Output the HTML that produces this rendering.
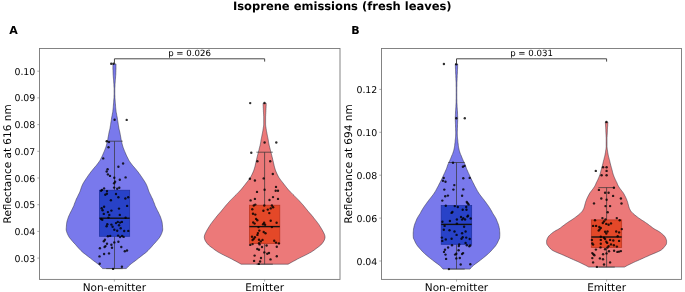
<!DOCTYPE html>
<html><head><meta charset="utf-8"><title>Isoprene emissions (fresh leaves)</title>
<style>
html,body{margin:0;padding:0;background:#fff;}
body{width:685px;height:292px;overflow:hidden;}
svg{display:block;}
text{font-family:"DejaVu Sans","Liberation Sans",sans-serif;fill:#000;text-rendering:geometricPrecision;}
.b{font-weight:bold;}
</style></head><body>
<svg width="685" height="292" viewBox="0 0 685 292">
<rect width="685" height="292" fill="#fff"/>
<text class="b" x="342.3" y="9.6" font-size="11.5" text-anchor="middle">Isoprene emissions (fresh leaves)</text>
<text class="b" x="9.3" y="33.9" font-size="11">A</text>
<text class="b" x="351.3" y="33.9" font-size="11">B</text>
<path d="M112.9,63.9 L112.9,65.2 L112.9,66.5 L112.9,67.8 L112.9,69.0 L113.0,70.3 L113.0,71.6 L113.1,72.9 L113.1,74.2 L113.2,75.5 L113.3,76.8 L113.4,78.1 L113.5,79.3 L113.6,80.6 L113.7,81.9 L113.8,83.2 L113.9,84.5 L113.9,85.8 L114.0,87.1 L114.1,88.4 L114.1,89.6 L114.1,90.9 L114.1,92.2 L114.1,93.5 L114.1,94.8 L114.0,96.1 L114.0,97.4 L113.9,98.7 L113.8,99.9 L113.7,101.2 L113.6,102.5 L113.5,103.8 L113.4,105.1 L113.3,106.4 L113.2,107.7 L113.1,109.0 L112.9,110.2 L112.8,111.5 L112.6,112.8 L112.3,114.1 L112.1,115.4 L111.8,116.7 L111.6,118.0 L111.4,119.3 L111.2,120.5 L111.0,121.8 L110.8,123.1 L110.6,124.4 L110.4,125.7 L110.2,127.0 L110.0,128.3 L109.7,129.6 L109.4,130.8 L109.1,132.1 L108.8,133.4 L108.6,134.7 L108.4,136.0 L108.1,137.3 L107.9,138.6 L107.7,139.9 L107.4,141.1 L107.1,142.4 L106.8,143.7 L106.5,145.0 L106.1,146.3 L105.7,147.6 L105.2,148.9 L104.7,150.2 L104.2,151.4 L103.6,152.7 L103.1,154.0 L102.5,155.3 L101.9,156.6 L101.2,157.9 L100.6,159.2 L99.9,160.5 L99.1,161.7 L98.2,163.0 L97.2,164.3 L96.2,165.6 L95.0,166.9 L93.9,168.2 L92.8,169.5 L91.8,170.8 L90.8,172.0 L89.9,173.3 L88.9,174.6 L88.0,175.9 L87.1,177.2 L86.2,178.5 L85.4,179.8 L84.5,181.1 L83.8,182.3 L83.0,183.6 L82.4,184.9 L81.8,186.2 L81.3,187.5 L80.9,188.8 L80.5,190.1 L80.0,191.4 L79.5,192.6 L78.9,193.9 L78.2,195.2 L77.6,196.5 L77.0,197.8 L76.3,199.1 L75.8,200.4 L75.3,201.7 L74.8,202.9 L74.3,204.2 L73.9,205.5 L73.3,206.8 L72.7,208.1 L72.0,209.4 L71.4,210.7 L70.7,212.0 L70.1,213.2 L69.5,214.5 L68.9,215.8 L68.4,217.1 L67.9,218.4 L67.5,219.7 L67.1,221.0 L66.8,222.3 L66.6,223.5 L66.5,224.8 L66.4,226.1 L66.3,227.4 L66.2,228.7 L66.2,230.0 L66.5,231.3 L66.9,232.6 L67.4,233.8 L68.0,235.1 L68.7,236.4 L69.5,237.7 L70.6,239.0 L71.6,240.3 L72.7,241.6 L73.9,242.9 L75.1,244.1 L76.2,245.4 L77.3,246.7 L78.5,248.0 L79.7,249.3 L80.9,250.6 L82.3,251.9 L83.8,253.2 L85.5,254.4 L87.1,255.7 L88.8,257.0 L90.5,258.3 L92.1,259.6 L93.8,260.9 L95.6,262.2 L97.3,263.5 L98.8,264.7 L100.2,266.0 L101.4,267.3 L102.6,268.6 L126.3,268.6 L127.5,267.3 L128.7,266.0 L130.1,264.7 L131.6,263.5 L133.3,262.2 L135.1,260.9 L136.8,259.6 L138.4,258.3 L140.1,257.0 L141.8,255.7 L143.4,254.4 L145.1,253.2 L146.6,251.9 L148.0,250.6 L149.2,249.3 L150.4,248.0 L151.6,246.7 L152.7,245.4 L153.8,244.1 L155.0,242.9 L156.2,241.6 L157.3,240.3 L158.3,239.0 L159.4,237.7 L160.2,236.4 L160.9,235.1 L161.5,233.8 L162.0,232.6 L162.4,231.3 L162.7,230.0 L162.7,228.7 L162.6,227.4 L162.5,226.1 L162.4,224.8 L162.3,223.5 L162.1,222.3 L161.8,221.0 L161.4,219.7 L161.0,218.4 L160.5,217.1 L160.0,215.8 L159.4,214.5 L158.8,213.2 L158.2,212.0 L157.5,210.7 L156.9,209.4 L156.2,208.1 L155.6,206.8 L155.0,205.5 L154.6,204.2 L154.1,202.9 L153.6,201.7 L153.1,200.4 L152.6,199.1 L151.9,197.8 L151.3,196.5 L150.7,195.2 L150.0,193.9 L149.4,192.6 L148.9,191.4 L148.4,190.1 L148.0,188.8 L147.6,187.5 L147.1,186.2 L146.5,184.9 L145.9,183.6 L145.1,182.3 L144.4,181.1 L143.5,179.8 L142.7,178.5 L141.8,177.2 L140.9,175.9 L140.0,174.6 L139.0,173.3 L138.1,172.0 L137.1,170.8 L136.1,169.5 L135.0,168.2 L133.9,166.9 L132.7,165.6 L131.7,164.3 L130.7,163.0 L129.8,161.7 L129.0,160.5 L128.3,159.2 L127.7,157.9 L127.0,156.6 L126.4,155.3 L125.8,154.0 L125.3,152.7 L124.7,151.4 L124.2,150.2 L123.7,148.9 L123.2,147.6 L122.8,146.3 L122.4,145.0 L122.1,143.7 L121.8,142.4 L121.5,141.1 L121.2,139.9 L121.0,138.6 L120.8,137.3 L120.5,136.0 L120.3,134.7 L120.1,133.4 L119.8,132.1 L119.5,130.8 L119.2,129.6 L118.9,128.3 L118.7,127.0 L118.5,125.7 L118.3,124.4 L118.1,123.1 L117.9,121.8 L117.7,120.5 L117.5,119.3 L117.3,118.0 L117.1,116.7 L116.8,115.4 L116.6,114.1 L116.3,112.8 L116.1,111.5 L116.0,110.2 L115.8,109.0 L115.7,107.7 L115.6,106.4 L115.5,105.1 L115.4,103.8 L115.3,102.5 L115.2,101.2 L115.1,99.9 L115.0,98.7 L114.9,97.4 L114.9,96.1 L114.8,94.8 L114.8,93.5 L114.8,92.2 L114.8,90.9 L114.8,89.6 L114.8,88.4 L114.9,87.1 L115.0,85.8 L115.0,84.5 L115.1,83.2 L115.2,81.9 L115.3,80.6 L115.4,79.3 L115.5,78.1 L115.6,76.8 L115.7,75.5 L115.8,74.2 L115.8,72.9 L115.9,71.6 L115.9,70.3 L116.0,69.0 L116.0,67.8 L116.0,66.5 L116.0,65.2 L116.0,63.9Z" fill="#7979ec" stroke="#2a2a3a" stroke-width="0.5" stroke-linejoin="round"/>
<path d="M263.0,103.3 L263.1,104.3 L263.1,105.3 L263.2,106.3 L263.2,107.3 L263.3,108.4 L263.3,109.4 L263.4,110.4 L263.4,111.4 L263.5,112.4 L263.5,113.4 L263.6,114.4 L263.6,115.4 L263.7,116.5 L263.7,117.5 L263.7,118.5 L263.7,119.5 L263.7,120.5 L263.7,121.5 L263.7,122.5 L263.7,123.5 L263.7,124.6 L263.6,125.6 L263.5,126.6 L263.3,127.6 L263.2,128.6 L263.0,129.6 L262.9,130.6 L262.7,131.6 L262.5,132.6 L262.3,133.7 L262.1,134.7 L261.9,135.7 L261.7,136.7 L261.5,137.7 L261.3,138.7 L261.1,139.7 L260.9,140.7 L260.8,141.8 L260.6,142.8 L260.4,143.8 L260.2,144.8 L260.0,145.8 L259.7,146.8 L259.5,147.8 L259.2,148.8 L259.0,149.8 L258.7,150.9 L258.4,151.9 L258.2,152.9 L257.9,153.9 L257.7,154.9 L257.4,155.9 L257.2,156.9 L256.9,157.9 L256.7,159.0 L256.5,160.0 L256.2,161.0 L256.0,162.0 L255.8,163.0 L255.5,164.0 L255.3,165.0 L255.1,166.0 L254.8,167.1 L254.5,168.1 L254.2,169.1 L253.9,170.1 L253.5,171.1 L253.1,172.1 L252.6,173.1 L252.2,174.1 L251.7,175.1 L251.1,176.2 L250.6,177.2 L249.9,178.2 L249.2,179.2 L248.5,180.2 L247.7,181.2 L246.9,182.2 L246.1,183.2 L245.3,184.3 L244.5,185.3 L243.7,186.3 L242.9,187.3 L242.1,188.3 L241.3,189.3 L240.4,190.3 L239.4,191.3 L238.4,192.4 L237.4,193.4 L236.4,194.4 L235.3,195.4 L234.4,196.4 L233.4,197.4 L232.4,198.4 L231.4,199.4 L230.4,200.4 L229.4,201.5 L228.5,202.5 L227.6,203.5 L226.7,204.5 L225.8,205.5 L225.0,206.5 L224.2,207.5 L223.4,208.5 L222.5,209.6 L221.7,210.6 L220.9,211.6 L220.0,212.6 L219.1,213.6 L218.2,214.6 L217.4,215.6 L216.5,216.6 L215.7,217.7 L214.9,218.7 L214.1,219.7 L213.3,220.7 L212.5,221.7 L211.8,222.7 L211.0,223.7 L210.3,224.7 L209.7,225.7 L209.0,226.8 L208.4,227.8 L207.8,228.8 L207.2,229.8 L206.6,230.8 L206.1,231.8 L205.6,232.8 L205.1,233.8 L204.7,234.9 L204.4,235.9 L204.3,236.9 L204.3,237.9 L204.6,238.9 L204.9,239.9 L205.4,240.9 L206.0,241.9 L206.7,242.9 L207.6,244.0 L208.5,245.0 L209.7,246.0 L211.0,247.0 L212.4,248.0 L213.7,249.0 L215.0,250.0 L216.5,251.0 L218.1,252.1 L220.0,253.1 L221.8,254.1 L223.8,255.1 L225.8,256.1 L227.9,257.1 L229.9,258.1 L231.9,259.1 L233.8,260.2 L235.8,261.2 L237.6,262.2 L239.4,263.2 L241.1,264.2 L288.1,264.2 L289.9,263.2 L291.7,262.2 L293.5,261.2 L295.5,260.2 L297.4,259.1 L299.4,258.1 L301.4,257.1 L303.5,256.1 L305.5,255.1 L307.5,254.1 L309.3,253.1 L311.2,252.1 L312.8,251.0 L314.3,250.0 L315.6,249.0 L316.9,248.0 L318.3,247.0 L319.6,246.0 L320.8,245.0 L321.7,244.0 L322.6,242.9 L323.3,241.9 L323.9,240.9 L324.4,239.9 L324.7,238.9 L325.0,237.9 L325.0,236.9 L324.9,235.9 L324.6,234.9 L324.2,233.8 L323.7,232.8 L323.2,231.8 L322.7,230.8 L322.1,229.8 L321.5,228.8 L320.9,227.8 L320.3,226.8 L319.6,225.7 L319.0,224.7 L318.3,223.7 L317.5,222.7 L316.8,221.7 L316.0,220.7 L315.2,219.7 L314.4,218.7 L313.6,217.7 L312.8,216.6 L311.9,215.6 L311.1,214.6 L310.2,213.6 L309.3,212.6 L308.4,211.6 L307.6,210.6 L306.8,209.6 L305.9,208.5 L305.1,207.5 L304.3,206.5 L303.5,205.5 L302.6,204.5 L301.7,203.5 L300.8,202.5 L299.9,201.5 L298.9,200.4 L297.9,199.4 L296.9,198.4 L295.9,197.4 L294.9,196.4 L294.0,195.4 L292.9,194.4 L291.9,193.4 L290.9,192.4 L289.9,191.3 L288.9,190.3 L288.0,189.3 L287.2,188.3 L286.4,187.3 L285.6,186.3 L284.8,185.3 L284.0,184.3 L283.2,183.2 L282.4,182.2 L281.6,181.2 L280.8,180.2 L280.1,179.2 L279.4,178.2 L278.7,177.2 L278.2,176.2 L277.6,175.1 L277.1,174.1 L276.7,173.1 L276.2,172.1 L275.8,171.1 L275.4,170.1 L275.1,169.1 L274.8,168.1 L274.5,167.1 L274.2,166.0 L274.0,165.0 L273.8,164.0 L273.5,163.0 L273.3,162.0 L273.1,161.0 L272.8,160.0 L272.6,159.0 L272.4,157.9 L272.1,156.9 L271.9,155.9 L271.6,154.9 L271.4,153.9 L271.1,152.9 L270.9,151.9 L270.6,150.9 L270.3,149.8 L270.1,148.8 L269.8,147.8 L269.6,146.8 L269.3,145.8 L269.1,144.8 L268.9,143.8 L268.7,142.8 L268.5,141.8 L268.4,140.7 L268.2,139.7 L268.0,138.7 L267.8,137.7 L267.6,136.7 L267.4,135.7 L267.2,134.7 L267.0,133.7 L266.8,132.6 L266.6,131.6 L266.4,130.6 L266.3,129.6 L266.1,128.6 L266.0,127.6 L265.8,126.6 L265.7,125.6 L265.6,124.6 L265.6,123.5 L265.6,122.5 L265.6,121.5 L265.6,120.5 L265.6,119.5 L265.6,118.5 L265.6,117.5 L265.6,116.5 L265.7,115.4 L265.7,114.4 L265.8,113.4 L265.8,112.4 L265.9,111.4 L265.9,110.4 L266.0,109.4 L266.0,108.4 L266.1,107.3 L266.1,106.3 L266.2,105.3 L266.2,104.3 L266.2,103.3Z" fill="#ec7979" stroke="#2a2a3a" stroke-width="0.5" stroke-linejoin="round"/>
<g stroke="#333" stroke-width="0.7" fill="none">
<path d="M114.5,141.2 V190.2 M114.5,236.3 V268.6 M106.2,141.2 H122.7 M106.2,268.6 H122.7"/>
</g>
<rect x="99.4" y="190.2" width="30.3" height="46.1" fill="#2842c8" stroke="#1c2f9e" stroke-width="0.7"/>
<path d="M99.4,218.2 H129.7" stroke="#111" stroke-width="1.4"/>
<g stroke="#333" stroke-width="0.7" fill="none">
<path d="M264.6,152.2 V205.2 M264.6,243.5 V264.2 M256.4,152.2 H272.8 M256.4,264.2 H272.8"/>
</g>
<rect x="249.4" y="205.2" width="30.4" height="38.3" fill="#e44828" stroke="#b8321c" stroke-width="0.7"/>
<path d="M249.4,226.6 H279.8" stroke="#111" stroke-width="1.4"/>
<g fill="#000" fill-opacity="0.82"><circle cx="111.2" cy="63.8" r="1.2"/><circle cx="113.5" cy="63.8" r="1.2"/><circle cx="114.6" cy="119.7" r="1.2"/><circle cx="126.7" cy="119.9" r="1.2"/><circle cx="106.7" cy="141.3" r="1.2"/><circle cx="109.0" cy="142.1" r="1.2"/><circle cx="108.5" cy="147.3" r="1.2"/><circle cx="103.2" cy="158.4" r="1.2"/><circle cx="123.1" cy="163.5" r="1.2"/><circle cx="118.4" cy="166.8" r="1.2"/><circle cx="107.6" cy="169.3" r="1.2"/><circle cx="106.7" cy="171.5" r="1.2"/><circle cx="107.9" cy="174.4" r="1.2"/><circle cx="110.0" cy="175.9" r="1.2"/><circle cx="114.3" cy="177.7" r="1.2"/><circle cx="125.6" cy="177.4" r="1.2"/><circle cx="119.8" cy="179.7" r="1.2"/><circle cx="115.1" cy="181.8" r="1.2"/><circle cx="114.1" cy="183.2" r="1.2"/><circle cx="114.1" cy="187.6" r="1.2"/><circle cx="119.3" cy="187.8" r="1.2"/><circle cx="117.2" cy="188.8" r="1.2"/><circle cx="104.1" cy="188.4" r="1.2"/><circle cx="102.0" cy="189.9" r="1.2"/><circle cx="101.1" cy="190.8" r="1.2"/><circle cx="107.0" cy="191.1" r="1.2"/><circle cx="106.9" cy="193.7" r="1.2"/><circle cx="105.3" cy="194.8" r="1.2"/><circle cx="116.0" cy="194.0" r="1.2"/><circle cx="118.4" cy="197.2" r="1.2"/><circle cx="128.2" cy="197.3" r="1.2"/><circle cx="125.4" cy="198.5" r="1.2"/><circle cx="110.9" cy="200.2" r="1.2"/><circle cx="127.1" cy="205.9" r="1.2"/><circle cx="104.1" cy="206.7" r="1.2"/><circle cx="101.7" cy="208.3" r="1.2"/><circle cx="119.0" cy="208.6" r="1.2"/><circle cx="102.6" cy="210.2" r="1.2"/><circle cx="111.4" cy="210.6" r="1.2"/><circle cx="107.9" cy="212.1" r="1.2"/><circle cx="103.8" cy="213.9" r="1.2"/><circle cx="109.3" cy="214.9" r="1.2"/><circle cx="119.8" cy="214.9" r="1.2"/><circle cx="108.5" cy="217.6" r="1.2"/><circle cx="125.6" cy="217.8" r="1.2"/><circle cx="101.1" cy="219.0" r="1.2"/><circle cx="102.3" cy="219.7" r="1.2"/><circle cx="117.8" cy="221.9" r="1.2"/><circle cx="121.9" cy="221.9" r="1.2"/><circle cx="120.1" cy="222.6" r="1.2"/><circle cx="116.0" cy="223.1" r="1.2"/><circle cx="107.3" cy="224.3" r="1.2"/><circle cx="111.4" cy="224.6" r="1.2"/><circle cx="119.0" cy="225.2" r="1.2"/><circle cx="106.6" cy="226.2" r="1.2"/><circle cx="112.6" cy="226.7" r="1.2"/><circle cx="120.7" cy="228.3" r="1.2"/><circle cx="114.3" cy="229.7" r="1.2"/><circle cx="117.2" cy="230.7" r="1.2"/><circle cx="124.2" cy="231.0" r="1.2"/><circle cx="128.3" cy="230.9" r="1.2"/><circle cx="107.9" cy="236.3" r="1.2"/><circle cx="110.2" cy="235.9" r="1.2"/><circle cx="118.1" cy="235.6" r="1.2"/><circle cx="120.1" cy="237.1" r="1.2"/><circle cx="122.1" cy="235.9" r="1.2"/><circle cx="123.6" cy="236.9" r="1.2"/><circle cx="104.9" cy="239.8" r="1.2"/><circle cx="103.8" cy="241.2" r="1.2"/><circle cx="114.3" cy="242.4" r="1.2"/><circle cx="118.4" cy="241.8" r="1.2"/><circle cx="107.0" cy="243.8" r="1.2"/><circle cx="111.4" cy="244.7" r="1.2"/><circle cx="105.5" cy="246.1" r="1.2"/><circle cx="104.6" cy="247.0" r="1.2"/><circle cx="121.3" cy="247.0" r="1.2"/><circle cx="112.0" cy="247.8" r="1.2"/><circle cx="99.9" cy="248.2" r="1.2"/><circle cx="127.0" cy="250.5" r="1.2"/><circle cx="124.8" cy="251.3" r="1.2"/><circle cx="109.0" cy="253.4" r="1.2"/><circle cx="104.1" cy="254.0" r="1.2"/><circle cx="99.5" cy="256.4" r="1.2"/><circle cx="99.7" cy="263.8" r="1.2"/><circle cx="121.9" cy="266.7" r="1.2"/><circle cx="113.1" cy="268.9" r="1.2"/></g>
<g fill="#000" fill-opacity="0.82"><circle cx="250.2" cy="103.1" r="1.2"/><circle cx="264.5" cy="103.0" r="1.2"/><circle cx="264.6" cy="142.5" r="1.2"/><circle cx="276.3" cy="142.5" r="1.2"/><circle cx="251.3" cy="152.7" r="1.2"/><circle cx="257.4" cy="161.2" r="1.2"/><circle cx="270.2" cy="161.2" r="1.2"/><circle cx="272.8" cy="174.0" r="1.2"/><circle cx="249.9" cy="178.8" r="1.2"/><circle cx="263.7" cy="178.4" r="1.2"/><circle cx="254.9" cy="180.5" r="1.2"/><circle cx="276.0" cy="186.9" r="1.2"/><circle cx="264.6" cy="189.8" r="1.2"/><circle cx="275.7" cy="190.7" r="1.2"/><circle cx="278.0" cy="190.7" r="1.2"/><circle cx="257.0" cy="191.9" r="1.2"/><circle cx="273.0" cy="197.1" r="1.2"/><circle cx="254.9" cy="198.9" r="1.2"/><circle cx="278.0" cy="198.9" r="1.2"/><circle cx="250.6" cy="200.4" r="1.2"/><circle cx="269.5" cy="200.0" r="1.2"/><circle cx="255.3" cy="204.6" r="1.2"/><circle cx="253.8" cy="205.5" r="1.2"/><circle cx="264.3" cy="205.5" r="1.2"/><circle cx="271.9" cy="205.5" r="1.2"/><circle cx="273.1" cy="207.3" r="1.2"/><circle cx="270.7" cy="208.4" r="1.2"/><circle cx="252.3" cy="209.2" r="1.2"/><circle cx="267.8" cy="209.6" r="1.2"/><circle cx="263.4" cy="210.8" r="1.2"/><circle cx="269.3" cy="213.1" r="1.2"/><circle cx="253.0" cy="213.7" r="1.2"/><circle cx="255.3" cy="214.6" r="1.2"/><circle cx="256.1" cy="218.9" r="1.2"/><circle cx="257.3" cy="220.3" r="1.2"/><circle cx="270.7" cy="220.7" r="1.2"/><circle cx="253.2" cy="222.4" r="1.2"/><circle cx="254.6" cy="223.6" r="1.2"/><circle cx="264.1" cy="222.8" r="1.2"/><circle cx="276.6" cy="222.8" r="1.2"/><circle cx="263.1" cy="224.2" r="1.2"/><circle cx="265.1" cy="224.8" r="1.2"/><circle cx="258.5" cy="227.1" r="1.2"/><circle cx="271.9" cy="227.1" r="1.2"/><circle cx="259.3" cy="230.6" r="1.2"/><circle cx="263.7" cy="232.0" r="1.2"/><circle cx="257.9" cy="233.1" r="1.2"/><circle cx="265.5" cy="233.3" r="1.2"/><circle cx="257.4" cy="234.9" r="1.2"/><circle cx="252.0" cy="236.8" r="1.2"/><circle cx="254.9" cy="237.3" r="1.2"/><circle cx="253.8" cy="238.7" r="1.2"/><circle cx="252.6" cy="240.0" r="1.2"/><circle cx="259.0" cy="239.7" r="1.2"/><circle cx="262.5" cy="239.9" r="1.2"/><circle cx="260.8" cy="241.4" r="1.2"/><circle cx="259.0" cy="243.2" r="1.2"/><circle cx="274.2" cy="240.8" r="1.2"/><circle cx="276.0" cy="242.6" r="1.2"/><circle cx="278.9" cy="243.4" r="1.2"/><circle cx="250.3" cy="244.9" r="1.2"/><circle cx="252.6" cy="244.1" r="1.2"/><circle cx="259.6" cy="244.4" r="1.2"/><circle cx="266.6" cy="245.5" r="1.2"/><circle cx="276.8" cy="246.7" r="1.2"/><circle cx="262.0" cy="247.0" r="1.2"/><circle cx="259.0" cy="249.8" r="1.2"/><circle cx="257.3" cy="249.0" r="1.2"/><circle cx="264.3" cy="252.4" r="1.2"/><circle cx="269.0" cy="253.0" r="1.2"/><circle cx="267.3" cy="253.8" r="1.2"/><circle cx="254.6" cy="255.6" r="1.2"/><circle cx="276.8" cy="256.2" r="1.2"/><circle cx="261.0" cy="258.0" r="1.2"/><circle cx="270.5" cy="259.4" r="1.2"/><circle cx="254.1" cy="260.9" r="1.2"/><circle cx="260.1" cy="261.5" r="1.2"/><circle cx="258.8" cy="263.9" r="1.2"/></g>
<rect x="39.5" y="48.5" width="300.5" height="230.9" fill="none" stroke="#777" stroke-width="0.9"/>
<path d="M37.3,71.2 H39.5" stroke="#777" stroke-width="0.6"/>
<text x="35.3" y="74.7" font-size="9.4" text-anchor="end">0.10</text>
<path d="M37.3,97.9 H39.5" stroke="#777" stroke-width="0.6"/>
<text x="35.3" y="101.4" font-size="9.4" text-anchor="end">0.09</text>
<path d="M37.3,124.6 H39.5" stroke="#777" stroke-width="0.6"/>
<text x="35.3" y="128.1" font-size="9.4" text-anchor="end">0.08</text>
<path d="M37.3,151.3 H39.5" stroke="#777" stroke-width="0.6"/>
<text x="35.3" y="154.8" font-size="9.4" text-anchor="end">0.07</text>
<path d="M37.3,178.0 H39.5" stroke="#777" stroke-width="0.6"/>
<text x="35.3" y="181.5" font-size="9.4" text-anchor="end">0.06</text>
<path d="M37.3,204.7 H39.5" stroke="#777" stroke-width="0.6"/>
<text x="35.3" y="208.2" font-size="9.4" text-anchor="end">0.05</text>
<path d="M37.3,231.4 H39.5" stroke="#777" stroke-width="0.6"/>
<text x="35.3" y="234.9" font-size="9.4" text-anchor="end">0.04</text>
<path d="M37.3,258.1 H39.5" stroke="#777" stroke-width="0.6"/>
<text x="35.3" y="261.6" font-size="9.4" text-anchor="end">0.03</text>
<path d="M114.4,279.4 v2.2" stroke="#777" stroke-width="0.6"/>
<text x="114.4" y="290.5" font-size="10.5" text-anchor="middle">Non-emitter</text>
<path d="M264.6,279.4 v2.2" stroke="#777" stroke-width="0.6"/>
<text x="264.6" y="290.5" font-size="10.5" text-anchor="middle">Emitter</text>
<text transform="translate(10.5,163.9) rotate(-90)" font-size="10.5" text-anchor="middle">Reflectance at 616 nm</text>
<path d="M114.45,64 V58.8 H264.65 V61.6" fill="none" stroke="#333" stroke-width="0.9"/>
<text x="189.5" y="55.6" font-size="8.6" text-anchor="middle">p = 0.026</text>
<path d="M455.3,64.1 L455.3,65.4 L455.4,66.7 L455.4,68.0 L455.5,69.3 L455.5,70.5 L455.6,71.8 L455.6,73.1 L455.7,74.4 L455.8,75.7 L455.8,77.0 L455.9,78.3 L455.9,79.6 L456.0,80.9 L456.1,82.2 L456.1,83.4 L456.1,84.7 L456.1,86.0 L456.2,87.3 L456.2,88.6 L456.2,89.9 L456.2,91.2 L456.2,92.5 L456.2,93.8 L456.2,95.0 L456.2,96.3 L456.2,97.6 L456.2,98.9 L456.1,100.2 L456.1,101.5 L456.1,102.8 L456.0,104.1 L455.9,105.4 L455.9,106.6 L455.8,107.9 L455.7,109.2 L455.6,110.5 L455.5,111.8 L455.5,113.1 L455.4,114.4 L455.4,115.7 L455.3,117.0 L455.3,118.3 L455.3,119.5 L455.3,120.8 L455.4,122.1 L455.4,123.4 L455.5,124.7 L455.5,126.0 L455.5,127.3 L455.6,128.6 L455.6,129.9 L455.7,131.1 L455.7,132.4 L455.7,133.7 L455.7,135.0 L455.6,136.3 L455.5,137.6 L455.4,138.9 L455.2,140.2 L455.1,141.5 L455.0,142.7 L454.8,144.0 L454.7,145.3 L454.5,146.6 L454.3,147.9 L454.0,149.2 L453.7,150.5 L453.3,151.8 L452.9,153.1 L452.4,154.4 L451.8,155.6 L451.3,156.9 L450.8,158.2 L450.2,159.5 L449.7,160.8 L449.0,162.1 L448.4,163.4 L447.8,164.7 L447.4,166.0 L447.0,167.2 L446.5,168.5 L446.0,169.8 L445.4,171.1 L444.8,172.4 L444.2,173.7 L443.6,175.0 L443.0,176.3 L442.4,177.6 L441.8,178.8 L441.2,180.1 L440.5,181.4 L439.9,182.7 L439.2,184.0 L438.6,185.3 L437.9,186.6 L437.2,187.9 L436.5,189.2 L435.8,190.5 L435.1,191.7 L434.3,193.0 L433.4,194.3 L432.4,195.6 L431.4,196.9 L430.4,198.2 L429.3,199.5 L428.4,200.8 L427.4,202.1 L426.5,203.3 L425.6,204.6 L424.6,205.9 L423.8,207.2 L422.9,208.5 L422.2,209.8 L421.4,211.1 L420.7,212.4 L420.0,213.7 L419.2,214.9 L418.4,216.2 L417.6,217.5 L416.9,218.8 L416.4,220.1 L415.8,221.4 L415.3,222.7 L414.8,224.0 L414.4,225.3 L414.0,226.6 L413.8,227.8 L413.5,229.1 L413.4,230.4 L413.3,231.7 L413.2,233.0 L413.2,234.3 L413.2,235.6 L413.3,236.9 L413.4,238.2 L414.0,239.4 L414.6,240.7 L415.2,242.0 L415.8,243.3 L416.6,244.6 L417.5,245.9 L418.6,247.2 L419.7,248.5 L420.9,249.8 L422.0,251.0 L423.2,252.3 L424.6,253.6 L426.1,254.9 L427.6,256.2 L429.2,257.5 L430.8,258.8 L432.5,260.1 L434.2,261.4 L435.9,262.7 L437.6,263.9 L439.3,265.2 L440.7,266.5 L442.0,267.8 L443.0,269.1 L470.0,269.1 L471.0,267.8 L472.3,266.5 L473.7,265.2 L475.4,263.9 L477.1,262.7 L478.8,261.4 L480.5,260.1 L482.2,258.8 L483.8,257.5 L485.4,256.2 L486.9,254.9 L488.4,253.6 L489.8,252.3 L491.0,251.0 L492.1,249.8 L493.3,248.5 L494.4,247.2 L495.5,245.9 L496.4,244.6 L497.2,243.3 L497.8,242.0 L498.4,240.7 L499.0,239.4 L499.6,238.2 L499.7,236.9 L499.8,235.6 L499.8,234.3 L499.8,233.0 L499.7,231.7 L499.6,230.4 L499.5,229.1 L499.2,227.8 L499.0,226.6 L498.6,225.3 L498.2,224.0 L497.7,222.7 L497.2,221.4 L496.6,220.1 L496.1,218.8 L495.4,217.5 L494.6,216.2 L493.8,214.9 L493.0,213.7 L492.3,212.4 L491.6,211.1 L490.8,209.8 L490.1,208.5 L489.2,207.2 L488.4,205.9 L487.4,204.6 L486.5,203.3 L485.6,202.1 L484.6,200.8 L483.7,199.5 L482.6,198.2 L481.6,196.9 L480.6,195.6 L479.6,194.3 L478.7,193.0 L477.9,191.7 L477.2,190.5 L476.5,189.2 L475.8,187.9 L475.1,186.6 L474.4,185.3 L473.8,184.0 L473.1,182.7 L472.5,181.4 L471.8,180.1 L471.2,178.8 L470.6,177.6 L470.0,176.3 L469.4,175.0 L468.8,173.7 L468.2,172.4 L467.6,171.1 L467.0,169.8 L466.5,168.5 L466.0,167.2 L465.6,166.0 L465.2,164.7 L464.6,163.4 L464.0,162.1 L463.3,160.8 L462.8,159.5 L462.2,158.2 L461.7,156.9 L461.2,155.6 L460.6,154.4 L460.1,153.1 L459.7,151.8 L459.3,150.5 L459.0,149.2 L458.7,147.9 L458.5,146.6 L458.3,145.3 L458.2,144.0 L458.0,142.7 L457.9,141.5 L457.8,140.2 L457.6,138.9 L457.5,137.6 L457.4,136.3 L457.3,135.0 L457.3,133.7 L457.3,132.4 L457.3,131.1 L457.4,129.9 L457.4,128.6 L457.5,127.3 L457.5,126.0 L457.5,124.7 L457.6,123.4 L457.6,122.1 L457.7,120.8 L457.7,119.5 L457.7,118.3 L457.7,117.0 L457.6,115.7 L457.6,114.4 L457.5,113.1 L457.5,111.8 L457.4,110.5 L457.3,109.2 L457.2,107.9 L457.1,106.6 L457.1,105.4 L457.0,104.1 L456.9,102.8 L456.9,101.5 L456.9,100.2 L456.8,98.9 L456.8,97.6 L456.8,96.3 L456.8,95.0 L456.8,93.8 L456.8,92.5 L456.8,91.2 L456.8,89.9 L456.8,88.6 L456.8,87.3 L456.9,86.0 L456.9,84.7 L456.9,83.4 L456.9,82.2 L457.0,80.9 L457.1,79.6 L457.1,78.3 L457.2,77.0 L457.2,75.7 L457.3,74.4 L457.4,73.1 L457.4,71.8 L457.5,70.5 L457.5,69.3 L457.6,68.0 L457.6,66.7 L457.7,65.4 L457.7,64.1Z" fill="#7979ec" stroke="#2a2a3a" stroke-width="0.5" stroke-linejoin="round"/>
<path d="M605.3,122.1 L605.4,123.0 L605.4,123.9 L605.5,124.8 L605.5,125.7 L605.6,126.7 L605.7,127.6 L605.7,128.5 L605.8,129.4 L605.8,130.3 L605.8,131.2 L605.9,132.1 L605.9,133.0 L606.0,134.0 L606.0,134.9 L606.1,135.8 L606.1,136.7 L606.2,137.6 L606.2,138.5 L606.2,139.4 L606.2,140.3 L606.2,141.3 L606.2,142.2 L606.2,143.1 L606.2,144.0 L606.2,144.9 L606.2,145.8 L606.2,146.7 L606.1,147.6 L606.0,148.5 L605.9,149.5 L605.7,150.4 L605.6,151.3 L605.5,152.2 L605.3,153.1 L605.2,154.0 L605.0,154.9 L604.8,155.8 L604.6,156.8 L604.3,157.7 L604.1,158.6 L603.9,159.5 L603.6,160.4 L603.4,161.3 L603.2,162.2 L603.0,163.1 L602.8,164.0 L602.5,165.0 L602.3,165.9 L602.0,166.8 L601.8,167.7 L601.5,168.6 L601.3,169.5 L601.0,170.4 L600.8,171.3 L600.6,172.3 L600.3,173.2 L600.1,174.1 L599.8,175.0 L599.4,175.9 L599.1,176.8 L598.7,177.7 L598.3,178.6 L597.9,179.6 L597.4,180.5 L597.0,181.4 L596.5,182.3 L596.1,183.2 L595.8,184.1 L595.4,185.0 L594.9,185.9 L594.4,186.8 L593.7,187.8 L593.1,188.7 L592.4,189.6 L591.7,190.5 L591.0,191.4 L590.3,192.3 L589.7,193.2 L589.2,194.1 L588.7,195.1 L588.2,196.0 L587.7,196.9 L587.3,197.8 L586.9,198.7 L586.5,199.6 L586.2,200.5 L585.8,201.4 L585.5,202.4 L585.3,203.3 L585.0,204.2 L584.8,205.1 L584.6,206.0 L584.3,206.9 L584.0,207.8 L583.7,208.7 L583.2,209.6 L582.7,210.6 L582.0,211.5 L581.2,212.4 L580.3,213.3 L579.3,214.2 L578.3,215.1 L577.1,216.0 L575.9,216.9 L574.6,217.9 L573.3,218.8 L572.0,219.7 L570.6,220.6 L569.1,221.5 L567.8,222.4 L566.5,223.3 L565.2,224.2 L564.0,225.2 L562.7,226.1 L561.5,227.0 L560.4,227.9 L559.1,228.8 L557.5,229.7 L555.8,230.6 L554.3,231.5 L552.9,232.4 L551.7,233.4 L550.6,234.3 L549.6,235.2 L548.8,236.1 L548.1,237.0 L547.6,237.9 L547.2,238.8 L546.9,239.7 L546.6,240.7 L546.6,241.6 L546.6,242.5 L546.7,243.4 L546.9,244.3 L547.5,245.2 L548.2,246.1 L548.9,247.0 L549.7,247.9 L550.6,248.9 L551.7,249.8 L553.1,250.7 L554.9,251.6 L557.0,252.5 L559.2,253.4 L561.3,254.3 L563.5,255.2 L565.6,256.2 L567.7,257.1 L569.7,258.0 L571.7,258.9 L573.7,259.8 L575.7,260.7 L577.8,261.6 L579.8,262.5 L581.8,263.5 L583.7,264.4 L585.5,265.3 L587.2,266.2 L588.8,267.1 L624.4,267.1 L626.0,266.2 L627.7,265.3 L629.5,264.4 L631.4,263.5 L633.4,262.5 L635.4,261.6 L637.5,260.7 L639.5,259.8 L641.5,258.9 L643.5,258.0 L645.5,257.1 L647.6,256.2 L649.7,255.2 L651.9,254.3 L654.0,253.4 L656.2,252.5 L658.3,251.6 L660.1,250.7 L661.5,249.8 L662.6,248.9 L663.5,247.9 L664.3,247.0 L665.0,246.1 L665.7,245.2 L666.3,244.3 L666.5,243.4 L666.6,242.5 L666.6,241.6 L666.6,240.7 L666.3,239.7 L666.0,238.8 L665.6,237.9 L665.1,237.0 L664.4,236.1 L663.6,235.2 L662.6,234.3 L661.5,233.4 L660.3,232.4 L658.9,231.5 L657.4,230.6 L655.7,229.7 L654.1,228.8 L652.8,227.9 L651.7,227.0 L650.5,226.1 L649.2,225.2 L648.0,224.2 L646.7,223.3 L645.4,222.4 L644.1,221.5 L642.6,220.6 L641.2,219.7 L639.9,218.8 L638.6,217.9 L637.3,216.9 L636.1,216.0 L634.9,215.1 L633.9,214.2 L632.9,213.3 L632.0,212.4 L631.2,211.5 L630.5,210.6 L630.0,209.6 L629.5,208.7 L629.2,207.8 L628.9,206.9 L628.6,206.0 L628.4,205.1 L628.2,204.2 L627.9,203.3 L627.7,202.4 L627.4,201.4 L627.0,200.5 L626.7,199.6 L626.3,198.7 L625.9,197.8 L625.5,196.9 L625.0,196.0 L624.5,195.1 L624.0,194.1 L623.5,193.2 L622.9,192.3 L622.2,191.4 L621.5,190.5 L620.8,189.6 L620.1,188.7 L619.5,187.8 L618.8,186.8 L618.3,185.9 L617.8,185.0 L617.4,184.1 L617.1,183.2 L616.7,182.3 L616.2,181.4 L615.8,180.5 L615.3,179.6 L614.9,178.6 L614.5,177.7 L614.1,176.8 L613.8,175.9 L613.4,175.0 L613.1,174.1 L612.9,173.2 L612.6,172.3 L612.4,171.3 L612.2,170.4 L611.9,169.5 L611.7,168.6 L611.4,167.7 L611.2,166.8 L610.9,165.9 L610.7,165.0 L610.4,164.0 L610.2,163.1 L610.0,162.2 L609.8,161.3 L609.6,160.4 L609.3,159.5 L609.1,158.6 L608.9,157.7 L608.6,156.8 L608.4,155.8 L608.2,154.9 L608.0,154.0 L607.9,153.1 L607.7,152.2 L607.6,151.3 L607.5,150.4 L607.3,149.5 L607.2,148.5 L607.1,147.6 L607.0,146.7 L607.0,145.8 L607.0,144.9 L607.0,144.0 L607.0,143.1 L607.0,142.2 L607.0,141.3 L607.0,140.3 L607.0,139.4 L607.0,138.5 L607.0,137.6 L607.1,136.7 L607.1,135.8 L607.2,134.9 L607.2,134.0 L607.3,133.0 L607.3,132.1 L607.4,131.2 L607.4,130.3 L607.4,129.4 L607.5,128.5 L607.5,127.6 L607.6,126.7 L607.7,125.7 L607.7,124.8 L607.8,123.9 L607.8,123.0 L607.9,122.1Z" fill="#ec7979" stroke="#2a2a3a" stroke-width="0.5" stroke-linejoin="round"/>
<g stroke="#333" stroke-width="0.7" fill="none">
<path d="M456.5,162.5 V205.6 M456.5,244.3 V269.1 M448.3,162.5 H464.7 M448.3,269.1 H464.7"/>
</g>
<rect x="441.2" y="205.6" width="30.5" height="38.7" fill="#2842c8" stroke="#1c2f9e" stroke-width="0.7"/>
<path d="M441.2,224.4 H471.7" stroke="#111" stroke-width="1.4"/>
<g stroke="#333" stroke-width="0.7" fill="none">
<path d="M606.6,187.6 V219.9 M606.6,247.5 V267.1 M598.4,187.6 H614.8 M598.4,267.1 H614.8"/>
</g>
<rect x="591.3" y="219.9" width="30.4" height="27.6" fill="#e44828" stroke="#b8321c" stroke-width="0.7"/>
<path d="M591.3,237.0 H621.7" stroke="#111" stroke-width="1.4"/>
<g fill="#000" fill-opacity="0.82"><circle cx="443.9" cy="64.0" r="1.2"/><circle cx="456.2" cy="64.3" r="1.2"/><circle cx="456.3" cy="118.3" r="1.2"/><circle cx="464.8" cy="118.3" r="1.2"/><circle cx="453.0" cy="162.7" r="1.2"/><circle cx="464.5" cy="165.9" r="1.2"/><circle cx="462.9" cy="166.8" r="1.2"/><circle cx="443.7" cy="177.9" r="1.2"/><circle cx="463.3" cy="178.2" r="1.2"/><circle cx="469.7" cy="177.9" r="1.2"/><circle cx="442.9" cy="180.8" r="1.2"/><circle cx="445.5" cy="181.7" r="1.2"/><circle cx="454.3" cy="185.1" r="1.2"/><circle cx="444.3" cy="189.6" r="1.2"/><circle cx="453.4" cy="189.6" r="1.2"/><circle cx="463.3" cy="189.4" r="1.2"/><circle cx="445.2" cy="196.2" r="1.2"/><circle cx="447.9" cy="195.6" r="1.2"/><circle cx="462.1" cy="195.8" r="1.2"/><circle cx="442.3" cy="200.6" r="1.2"/><circle cx="466.8" cy="202.0" r="1.2"/><circle cx="467.7" cy="203.2" r="1.2"/><circle cx="468.6" cy="204.4" r="1.2"/><circle cx="445.8" cy="205.8" r="1.2"/><circle cx="454.8" cy="206.1" r="1.2"/><circle cx="457.8" cy="207.0" r="1.2"/><circle cx="466.2" cy="207.0" r="1.2"/><circle cx="462.7" cy="209.8" r="1.2"/><circle cx="466.5" cy="209.8" r="1.2"/><circle cx="452.4" cy="211.9" r="1.2"/><circle cx="451.6" cy="212.9" r="1.2"/><circle cx="468.0" cy="215.7" r="1.2"/><circle cx="461.0" cy="217.0" r="1.2"/><circle cx="463.3" cy="218.3" r="1.2"/><circle cx="462.1" cy="219.6" r="1.2"/><circle cx="465.1" cy="219.5" r="1.2"/><circle cx="456.9" cy="219.5" r="1.2"/><circle cx="470.7" cy="218.5" r="1.2"/><circle cx="449.9" cy="221.0" r="1.2"/><circle cx="442.4" cy="221.7" r="1.2"/><circle cx="467.4" cy="216.6" r="1.2"/><circle cx="456.9" cy="223.6" r="1.2"/><circle cx="444.6" cy="225.9" r="1.2"/><circle cx="464.1" cy="226.7" r="1.2"/><circle cx="443.8" cy="229.7" r="1.2"/><circle cx="449.5" cy="230.2" r="1.2"/><circle cx="454.5" cy="231.5" r="1.2"/><circle cx="465.6" cy="231.5" r="1.2"/><circle cx="462.1" cy="233.2" r="1.2"/><circle cx="456.6" cy="234.9" r="1.2"/><circle cx="441.9" cy="237.6" r="1.2"/><circle cx="462.7" cy="237.3" r="1.2"/><circle cx="466.2" cy="237.6" r="1.2"/><circle cx="461.5" cy="238.8" r="1.2"/><circle cx="451.6" cy="238.8" r="1.2"/><circle cx="445.8" cy="239.4" r="1.2"/><circle cx="469.7" cy="239.0" r="1.2"/><circle cx="442.3" cy="240.9" r="1.2"/><circle cx="465.6" cy="242.9" r="1.2"/><circle cx="459.2" cy="244.5" r="1.2"/><circle cx="452.0" cy="245.2" r="1.2"/><circle cx="466.8" cy="245.2" r="1.2"/><circle cx="469.3" cy="246.2" r="1.2"/><circle cx="470.3" cy="245.4" r="1.2"/><circle cx="448.1" cy="247.5" r="1.2"/><circle cx="458.8" cy="246.1" r="1.2"/><circle cx="445.0" cy="249.7" r="1.2"/><circle cx="458.6" cy="250.2" r="1.2"/><circle cx="444.0" cy="251.9" r="1.2"/><circle cx="463.1" cy="253.1" r="1.2"/><circle cx="462.1" cy="254.0" r="1.2"/><circle cx="456.3" cy="253.7" r="1.2"/><circle cx="455.1" cy="254.6" r="1.2"/><circle cx="445.5" cy="254.6" r="1.2"/><circle cx="446.1" cy="258.9" r="1.2"/><circle cx="456.3" cy="258.4" r="1.2"/><circle cx="459.8" cy="258.0" r="1.2"/><circle cx="460.7" cy="264.5" r="1.2"/><circle cx="470.3" cy="264.2" r="1.2"/><circle cx="448.9" cy="269.1" r="1.2"/></g>
<g fill="#000" fill-opacity="0.82"><circle cx="606.4" cy="122.0" r="1.2"/><circle cx="603.1" cy="167.2" r="1.2"/><circle cx="606.6" cy="167.2" r="1.2"/><circle cx="595.8" cy="170.9" r="1.2"/><circle cx="606.6" cy="170.9" r="1.2"/><circle cx="601.6" cy="175.2" r="1.2"/><circle cx="606.6" cy="175.2" r="1.2"/><circle cx="613.9" cy="187.7" r="1.2"/><circle cx="598.9" cy="189.9" r="1.2"/><circle cx="605.1" cy="192.7" r="1.2"/><circle cx="608.6" cy="192.7" r="1.2"/><circle cx="613.1" cy="195.9" r="1.2"/><circle cx="601.3" cy="198.5" r="1.2"/><circle cx="606.6" cy="199.7" r="1.2"/><circle cx="620.9" cy="198.5" r="1.2"/><circle cx="594.0" cy="203.4" r="1.2"/><circle cx="621.5" cy="203.5" r="1.2"/><circle cx="605.5" cy="206.1" r="1.2"/><circle cx="610.1" cy="206.1" r="1.2"/><circle cx="607.7" cy="212.2" r="1.2"/><circle cx="602.4" cy="218.1" r="1.2"/><circle cx="616.8" cy="218.1" r="1.2"/><circle cx="605.5" cy="219.5" r="1.2"/><circle cx="595.0" cy="220.2" r="1.2"/><circle cx="619.7" cy="220.2" r="1.2"/><circle cx="604.0" cy="221.4" r="1.2"/><circle cx="602.8" cy="223.0" r="1.2"/><circle cx="606.3" cy="223.9" r="1.2"/><circle cx="611.0" cy="223.4" r="1.2"/><circle cx="608.6" cy="224.8" r="1.2"/><circle cx="593.1" cy="225.9" r="1.2"/><circle cx="596.1" cy="225.9" r="1.2"/><circle cx="599.3" cy="226.9" r="1.2"/><circle cx="600.8" cy="228.0" r="1.2"/><circle cx="599.6" cy="229.4" r="1.2"/><circle cx="598.7" cy="230.6" r="1.2"/><circle cx="621.8" cy="229.1" r="1.2"/><circle cx="616.2" cy="231.5" r="1.2"/><circle cx="619.1" cy="232.4" r="1.2"/><circle cx="605.1" cy="231.8" r="1.2"/><circle cx="607.5" cy="231.5" r="1.2"/><circle cx="606.3" cy="233.5" r="1.2"/><circle cx="600.8" cy="236.8" r="1.2"/><circle cx="617.7" cy="236.2" r="1.2"/><circle cx="604.0" cy="237.8" r="1.2"/><circle cx="605.1" cy="239.0" r="1.2"/><circle cx="591.9" cy="239.9" r="1.2"/><circle cx="600.8" cy="239.9" r="1.2"/><circle cx="610.1" cy="239.9" r="1.2"/><circle cx="613.3" cy="240.5" r="1.2"/><circle cx="619.1" cy="240.9" r="1.2"/><circle cx="606.3" cy="241.7" r="1.2"/><circle cx="607.2" cy="242.9" r="1.2"/><circle cx="592.3" cy="243.4" r="1.2"/><circle cx="593.1" cy="244.6" r="1.2"/><circle cx="600.8" cy="243.8" r="1.2"/><circle cx="611.0" cy="244.4" r="1.2"/><circle cx="613.9" cy="245.2" r="1.2"/><circle cx="608.6" cy="246.1" r="1.2"/><circle cx="616.9" cy="246.6" r="1.2"/><circle cx="600.5" cy="247.4" r="1.2"/><circle cx="607.5" cy="247.5" r="1.2"/><circle cx="595.9" cy="249.6" r="1.2"/><circle cx="605.1" cy="249.2" r="1.2"/><circle cx="609.0" cy="251.3" r="1.2"/><circle cx="614.1" cy="250.8" r="1.2"/><circle cx="617.4" cy="251.9" r="1.2"/><circle cx="619.1" cy="251.6" r="1.2"/><circle cx="620.9" cy="251.1" r="1.2"/><circle cx="592.3" cy="253.1" r="1.2"/><circle cx="593.4" cy="254.3" r="1.2"/><circle cx="594.4" cy="255.2" r="1.2"/><circle cx="603.1" cy="254.3" r="1.2"/><circle cx="606.5" cy="253.4" r="1.2"/><circle cx="592.3" cy="258.1" r="1.2"/><circle cx="599.9" cy="258.4" r="1.2"/><circle cx="603.0" cy="259.2" r="1.2"/><circle cx="593.1" cy="262.4" r="1.2"/><circle cx="610.1" cy="262.4" r="1.2"/><circle cx="604.0" cy="264.5" r="1.2"/><circle cx="596.9" cy="266.9" r="1.2"/></g>
<rect x="381.5" y="48.5" width="300.0" height="230.9" fill="none" stroke="#777" stroke-width="0.9"/>
<path d="M379.3,89.4 H381.5" stroke="#777" stroke-width="0.6"/>
<text x="377.3" y="92.9" font-size="9.4" text-anchor="end">0.12</text>
<path d="M379.3,132.3 H381.5" stroke="#777" stroke-width="0.6"/>
<text x="377.3" y="135.8" font-size="9.4" text-anchor="end">0.10</text>
<path d="M379.3,175.2 H381.5" stroke="#777" stroke-width="0.6"/>
<text x="377.3" y="178.7" font-size="9.4" text-anchor="end">0.08</text>
<path d="M379.3,218.1 H381.5" stroke="#777" stroke-width="0.6"/>
<text x="377.3" y="221.6" font-size="9.4" text-anchor="end">0.06</text>
<path d="M379.3,261.0 H381.5" stroke="#777" stroke-width="0.6"/>
<text x="377.3" y="264.5" font-size="9.4" text-anchor="end">0.04</text>
<path d="M456.5,279.4 v2.2" stroke="#777" stroke-width="0.6"/>
<text x="456.5" y="290.5" font-size="10.5" text-anchor="middle">Non-emitter</text>
<path d="M606.6,279.4 v2.2" stroke="#777" stroke-width="0.6"/>
<text x="606.6" y="290.5" font-size="10.5" text-anchor="middle">Emitter</text>
<text transform="translate(352.0,163.9) rotate(-90)" font-size="10.5" text-anchor="middle">Reflectance at 694 nm</text>
<path d="M456.5,64 V58.8 H606.6 V61.6" fill="none" stroke="#333" stroke-width="0.9"/>
<text x="531.5" y="55.6" font-size="8.6" text-anchor="middle">p = 0.031</text>
</svg></body></html>
